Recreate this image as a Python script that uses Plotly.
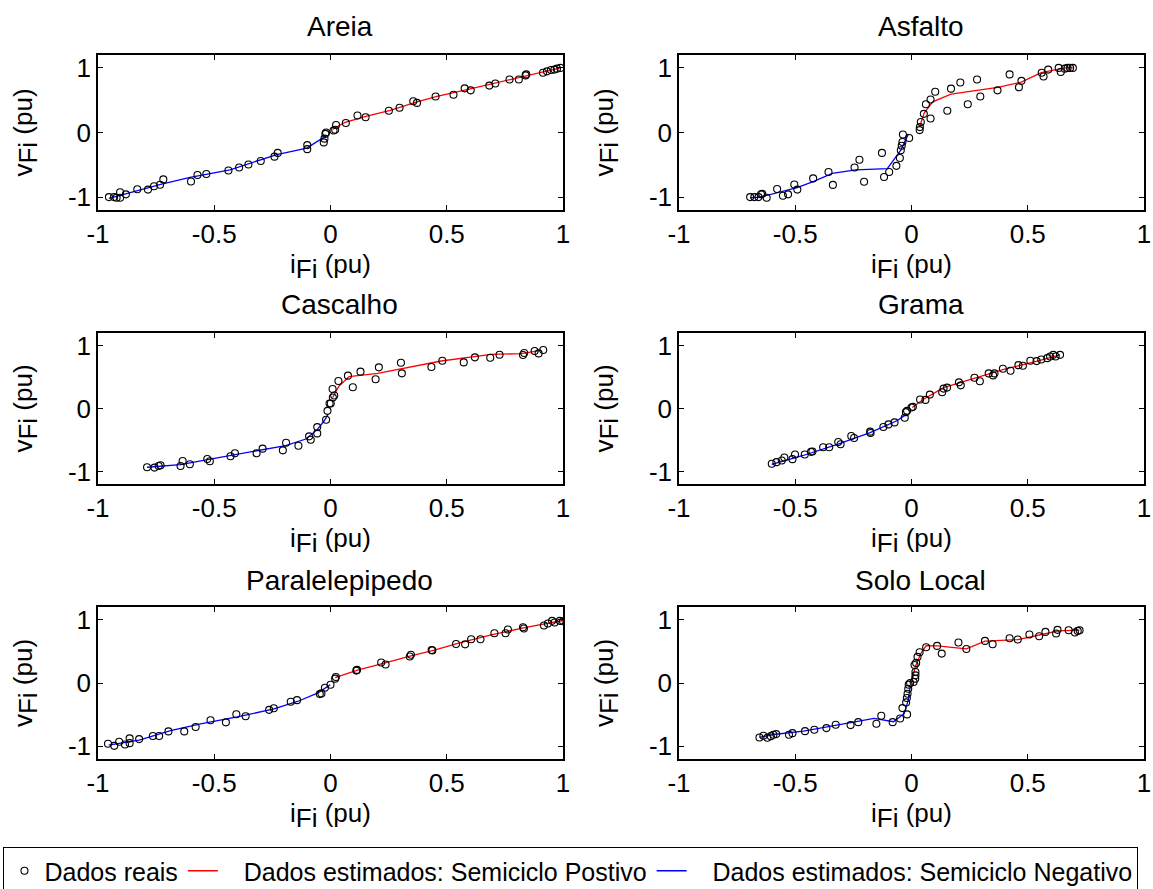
import plotly.graph_objects as go

# ---- measured data (i_Fi, v_Fi in pu) ----
areia_i = [-0.953, -0.931, -0.92, -0.905, -0.905, -0.88, -0.831, -0.785, -0.759, -0.733, -0.719, -0.6, -0.572,
           -0.534, -0.439, -0.393, -0.353, -0.3, -0.241, -0.227, -0.1, -0.1, -0.029, -0.026, -0.022, -0.019,
           0.013, 0.02, 0.024, 0.066, 0.116, 0.151, 0.251, 0.297, 0.356, 0.372, 0.452, 0.529, 0.577, 0.603,
           0.683, 0.709, 0.77, 0.81, 0.839, 0.842, 0.914, 0.931, 0.948, 0.963, 0.974, 0.989]
areia_v = [-1.0, -1.0, -1.01, -0.926, -1.01, -0.958, -0.879, -0.884, -0.832, -0.81, -0.726, -0.758, -0.658,
           -0.642, -0.589, -0.542, -0.495, -0.442, -0.374, -0.316, -0.195, -0.258, -0.153, -0.095, -0.021, 0.0,
           0.032, 0.042, 0.116, 0.147, 0.263, 0.237, 0.337, 0.384, 0.484, 0.458, 0.558, 0.584, 0.684, 0.653,
           0.726, 0.758, 0.821, 0.821, 0.884, 0.9, 0.926, 0.947, 0.968, 0.974, 0.989, 1.0]
areia_neg_i = [-0.953, -0.891, -0.726, -0.604, -0.432, -0.231, -0.102, -0.019]
areia_neg_v = [-1.02, -0.958, -0.8, -0.695, -0.579, -0.342, -0.242, -0.053]
areia_pos_i = [0.01, 0.063, 0.156, 0.257, 0.372, 0.458, 0.587, 0.687, 0.845, 0.989]
areia_pos_v = [0.053, 0.158, 0.253, 0.342, 0.474, 0.558, 0.663, 0.747, 0.884, 1.0]

asfalto_i = [-0.694, -0.676, -0.658, -0.647, -0.642, -0.623, -0.578, -0.553, -0.531, -0.504, -0.491, -0.423,
             -0.357, -0.338, -0.245, -0.224, -0.204, -0.127, -0.118, -0.096, -0.065, -0.05, -0.046, -0.042,
             -0.039, -0.037, -0.01, 0.035, 0.036, 0.04, 0.053, 0.062, 0.082, 0.082, 0.102, 0.154, 0.17, 0.21,
             0.242, 0.282, 0.296, 0.37, 0.422, 0.462, 0.473, 0.56, 0.568, 0.588, 0.633, 0.642, 0.659, 0.671,
             0.682, 0.694]
asfalto_v = [-1.0, -1.0, -1.0, -0.958, -0.95, -1.01, -0.874, -0.979, -0.958, -0.805, -0.884, -0.711, -0.611,
             -0.811, -0.542, -0.421, -0.763, -0.316, -0.689, -0.611, -0.516, -0.395, -0.274, -0.205, -0.147,
             -0.032, -0.084, 0.037, 0.084, 0.163, 0.289, 0.437, 0.216, 0.511, 0.632, 0.337, 0.679, 0.774,
             0.437, 0.821, 0.558, 0.653, 0.9, 0.7, 0.8, 0.926, 0.868, 0.974, 1.0, 0.937, 0.989, 1.0, 1.0, 1.0]
asfalto_neg_i = [-0.694, -0.65, -0.492, -0.42, -0.341, -0.24, -0.104, -0.046, -0.013]
asfalto_neg_v = [-1.01, -1.0, -0.853, -0.758, -0.632, -0.579, -0.558, -0.274, -0.021]
asfalto_pos_i = [0.035, 0.055, 0.091, 0.17, 0.371, 0.472, 0.558, 0.659, 0.694]
asfalto_pos_v = [0.095, 0.305, 0.474, 0.595, 0.7, 0.779, 0.926, 1.0, 1.0]

cascalho_i = [-0.789, -0.757, -0.739, -0.731, -0.645, -0.636, -0.605, -0.53, -0.519, -0.43, -0.411, -0.318,
              -0.292, -0.205, -0.191, -0.138, -0.092, -0.085, -0.057, -0.057, -0.019, -0.013, -0.004, 0.001,
              0.016, 0.01, 0.009, 0.034, 0.075, 0.096, 0.129, 0.194, 0.208, 0.303, 0.307, 0.434, 0.481, 0.573,
              0.621, 0.687, 0.727, 0.828, 0.833, 0.878, 0.895, 0.915]
cascalho_v = [-0.934, -0.939, -0.913, -0.902, -0.913, -0.834, -0.887, -0.802, -0.839, -0.76, -0.712, -0.712,
              -0.638, -0.665, -0.544, -0.591, -0.443, -0.496, -0.296, -0.396, -0.179, -0.037, 0.079, 0.079,
              0.206, 0.174, 0.311, 0.438, 0.522, 0.338, 0.586, 0.464, 0.654, 0.728, 0.559, 0.66, 0.76, 0.733,
              0.813, 0.807, 0.855, 0.85, 0.881, 0.913, 0.876, 0.929]
cascalho_neg_i = [-0.789, -0.645, -0.523, -0.401, -0.193, -0.106, -0.056, -0.027, -0.01]
cascalho_neg_v = [-0.934, -0.892, -0.807, -0.723, -0.591, -0.485, -0.332, -0.195, -0.09]
cascalho_pos_i = [0.009, 0.037, 0.08, 0.203, 0.476, 0.691, 0.82, 0.907]
cascalho_pos_v = [0.174, 0.359, 0.507, 0.559, 0.755, 0.86, 0.871, 0.923]

grama_i = [-0.601, -0.581, -0.558, -0.547, -0.512, -0.501, -0.459, -0.432, -0.426, -0.38, -0.354, -0.315,
           -0.305, -0.259, -0.247, -0.178, -0.176, -0.121, -0.099, -0.073, -0.029, -0.024, -0.019, 0.0, 0.006,
           0.037, 0.06, 0.079, 0.132, 0.138, 0.153, 0.204, 0.212, 0.271, 0.294, 0.332, 0.351, 0.357, 0.393,
           0.426, 0.46, 0.479, 0.511, 0.538, 0.558, 0.584, 0.596, 0.61, 0.62, 0.639]
grama_v = [-0.879, -0.853, -0.826, -0.779, -0.805, -0.732, -0.732, -0.689, -0.684, -0.616, -0.616, -0.532,
           -0.568, -0.437, -0.468, -0.368, -0.389, -0.295, -0.253, -0.221, -0.147, -0.058, -0.037, 0.016, 0.026,
           0.142, 0.137, 0.221, 0.258, 0.316, 0.332, 0.416, 0.368, 0.489, 0.432, 0.558, 0.526, 0.558, 0.632,
           0.6, 0.689, 0.679, 0.758, 0.753, 0.779, 0.8, 0.826, 0.853, 0.826, 0.853]
grama_neg_i = [-0.601, -0.466, -0.322, -0.178, -0.063, -0.02]
grama_neg_v = [-0.889, -0.747, -0.574, -0.384, -0.195, -0.089]
grama_pos_i = [0.003, 0.052, 0.138, 0.253, 0.397, 0.541, 0.639]
grama_pos_v = [0.016, 0.147, 0.332, 0.463, 0.621, 0.753, 0.853]

paral_i = [-0.957, -0.93, -0.909, -0.884, -0.864, -0.864, -0.823, -0.764, -0.737, -0.697, -0.629, -0.58,
           -0.516, -0.45, -0.405, -0.365, -0.264, -0.244, -0.171, -0.144, -0.046, -0.039, -0.024, 0.0, 0.02,
           0.023, 0.111, 0.114, 0.218, 0.237, 0.341, 0.346, 0.435, 0.438, 0.54, 0.579, 0.605, 0.645, 0.705,
           0.753, 0.763, 0.828, 0.832, 0.918, 0.935, 0.953, 0.964, 0.986, 1.0]
paral_v = [-0.96, -0.992, -0.928, -0.971, -0.875, -0.95, -0.886, -0.838, -0.838, -0.764, -0.764, -0.695,
           -0.589, -0.621, -0.493, -0.525, -0.424, -0.398, -0.297, -0.271, -0.175, -0.164, -0.074, -0.027, 0.069,
           0.095, 0.196, 0.207, 0.324, 0.292, 0.419, 0.446, 0.52, 0.515, 0.615, 0.61, 0.69, 0.69, 0.785, 0.785,
           0.844, 0.881, 0.86, 0.907, 0.939, 0.981, 0.955, 0.981, 0.976]
paral_neg_i = [-0.954, -0.823, -0.688, -0.559, -0.401, -0.243, -0.142, -0.056, -0.001]
paral_neg_v = [-0.981, -0.902, -0.753, -0.647, -0.536, -0.408, -0.292, -0.159, -0.027]
paral_pos_i = [0.02, 0.116, 0.231, 0.346, 0.447, 0.547, 0.691, 0.835, 1.0]
paral_pos_v = [0.085, 0.202, 0.313, 0.43, 0.52, 0.626, 0.759, 0.875, 0.987]

solo_i = [-0.654, -0.637, -0.62, -0.605, -0.594, -0.582, -0.527, -0.512, -0.458, -0.418, -0.366, -0.326,
          -0.262, -0.229, -0.151, -0.13, -0.081, -0.049, -0.039, -0.019, -0.023, -0.02, -0.017, -0.014, -0.012,
          -0.006, 0.009, 0.016, 0.017, 0.017, 0.013, 0.02, 0.026, 0.035, 0.063, 0.11, 0.13, 0.202, 0.236,
          0.316, 0.349, 0.422, 0.457, 0.507, 0.549, 0.576, 0.622, 0.628, 0.676, 0.703, 0.715, 0.723]
solo_v = [-0.86, -0.834, -0.865, -0.839, -0.818, -0.807, -0.818, -0.792, -0.76, -0.739, -0.712, -0.66,
          -0.665, -0.618, -0.644, -0.517, -0.618, -0.56, -0.396, -0.496, -0.306, -0.237, -0.169, -0.09, -0.026,
          0.0, 0.016, 0.069, 0.121, 0.174, 0.285, 0.317, 0.412, 0.485, 0.565, 0.586, 0.464, 0.639, 0.538,
          0.665, 0.612, 0.707, 0.686, 0.765, 0.739, 0.807, 0.781, 0.839, 0.834, 0.797, 0.823, 0.834]
solo_neg_i = [-0.654, -0.594, -0.464, -0.32, -0.161, -0.078, -0.032, -0.014, -0.006]
solo_neg_v = [-0.86, -0.813, -0.76, -0.67, -0.559, -0.612, -0.485, -0.274, -0.063]
solo_pos_i = [0.0, 0.016, 0.04, 0.063, 0.112, 0.236, 0.316, 0.458, 0.545, 0.631, 0.723]
solo_pos_v = [0.0, 0.253, 0.464, 0.591, 0.586, 0.538, 0.66, 0.686, 0.754, 0.823, 0.834]

titles = ["Areia", "Asfalto", "Cascalho", "Grama", "Paralelepipedo", "Solo Local"]
panels = [
    (areia_i, areia_v, areia_pos_i, areia_pos_v, areia_neg_i, areia_neg_v),
    (asfalto_i, asfalto_v, asfalto_pos_i, asfalto_pos_v, asfalto_neg_i, asfalto_neg_v),
    (cascalho_i, cascalho_v, cascalho_pos_i, cascalho_pos_v, cascalho_neg_i, cascalho_neg_v),
    (grama_i, grama_v, grama_pos_i, grama_pos_v, grama_neg_i, grama_neg_v),
    (paral_i, paral_v, paral_pos_i, paral_pos_v, paral_neg_i, paral_neg_v),
    (solo_i, solo_v, solo_pos_i, solo_pos_v, solo_neg_i, solo_neg_v),
]
legend_names = ["Dados reais", "Dados estimados: Semiciclo Postivo", "Dados estimados: Semiciclo Negativo"]

# ---- layout geometry (pixels -> paper fractions) ----
W, H = 1153, 889
FONT = "Liberation Sans, Arial, Helvetica, sans-serif"
col_px = [(98, 563), (679, 1144)]
row_px = [(55, 210), (333, 484), (607, 759)]
title_px = [27, 305, 580]
PAD = "\u00a0" * 3  # extra room between a legend line sample and its label

fig = go.Figure()
layout = dict(
    width=W, height=H,
    margin=dict(l=0, r=0, t=0, b=0, autoexpand=False),
    paper_bgcolor="white", plot_bgcolor="white",
    font=dict(family=FONT, size=24, color="black"),
    showlegend=True,
    legend=dict(orientation="h", x=0.003, y=1 - 847 / H, xanchor="left", yanchor="top",
                bordercolor="black", borderwidth=1, bgcolor="white",
                font=dict(family=FONT, size=25, color="black"),
                itemwidth=30, tracegroupgap=0),
)
annotations = []

for k, (ci, cv, pi, pv, ni, nv) in enumerate(panels):
    r, c = divmod(k, 2)
    ax = "" if k == 0 else str(k + 1)
    x0, x1 = col_px[c]
    y0, y1 = row_px[r]
    show = k == 0
    fig.add_trace(go.Scatter(x=pi, y=pv, mode="lines", line=dict(color="#ff0000", width=1.3),
                             name=PAD + legend_names[1], showlegend=show, legendrank=2,
                             xaxis="x" + ax, yaxis="y" + ax))
    fig.add_trace(go.Scatter(x=ni, y=nv, mode="lines", line=dict(color="#0000ff", width=1.3),
                             name=PAD + legend_names[2], showlegend=show, legendrank=3,
                             xaxis="x" + ax, yaxis="y" + ax))
    fig.add_trace(go.Scatter(x=ci, y=cv, mode="markers",
                             marker=dict(symbol="circle-open", size=7, color="black", line=dict(width=1.1)),
                             name=legend_names[0], showlegend=show, legendrank=1,
                             xaxis="x" + ax, yaxis="y" + ax))
    common = dict(showline=True, linecolor="black", linewidth=1.5, mirror="ticks",
                  ticks="inside", ticklen=5, tickcolor="black", tickwidth=1,
                  showgrid=False, zeroline=False, tickfont=dict(family=FONT, size=26))
    layout["xaxis" + ax] = dict(common, domain=[x0 / W, x1 / W], anchor="y" + ax,
                                range=[-1, 1], tickvals=[-1, -0.5, 0, 0.5, 1],
                                ticktext=["-1", "-0.5", "0", "0.5", "1"],
                                title=dict(text="i<sub><span style='font-size:26px'>Fi</span></sub> (pu)",
                                           font=dict(family=FONT, size=26), standoff=4))
    layout["yaxis" + ax] = dict(common, domain=[1 - y1 / H, 1 - y0 / H], anchor="x" + ax,
                                range=[-1.2, 1.2], tickvals=[-1, 0, 1],
                                ticktext=["-1", "0", "1"],
                                title=dict(text="v<sub><span style='font-size:26px'>Fi</span></sub> (pu)",
                                           font=dict(family=FONT, size=26), standoff=28))
    annotations.append(dict(text=titles[k], xref="paper", yref="paper",
                            x=((x0 + x1) / 2 + 9) / W, y=1 - title_px[r] / H,
                            xanchor="center", yanchor="middle", showarrow=False,
                            font=dict(family=FONT, size=28, color="black")))

layout["annotations"] = annotations
fig.update_layout(**layout)
fig.write_html("out.html")
